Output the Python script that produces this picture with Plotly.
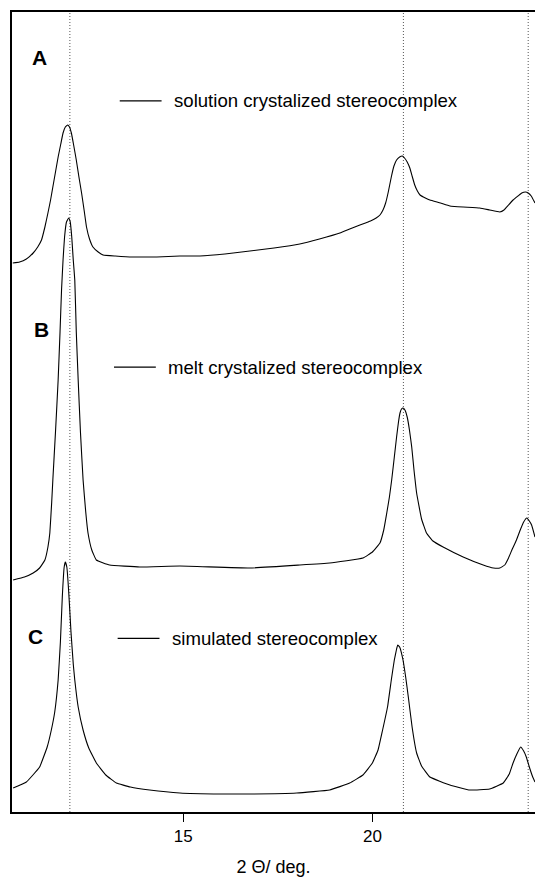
import plotly.graph_objects as go

# 2-theta (deg) and intensity (a.u.)
x_a = [10.49, 10.67, 10.85, 11.03, 11.15, 11.25, 11.34, 11.42, 11.49, 11.55, 11.62, 11.69, 11.76, 11.82, 11.88,
       11.94, 11.99, 12.04, 12.10, 12.17, 12.24, 12.31, 12.38, 12.44, 12.52, 12.61, 12.75, 12.88, 13.2, 13.66,
       14.3, 14.91, 15.44, 16.1, 16.76, 17.4, 18.08, 18.6, 19.14, 19.4, 19.67, 19.95, 20.1, 20.2, 20.28, 20.35,
       20.42, 20.5, 20.57, 20.64, 20.72, 20.79, 20.85, 20.92, 20.99, 21.05, 21.12, 21.19, 21.26, 21.4, 21.52,
       21.8, 22.05, 22.4, 22.84, 23.1, 23.37, 23.48, 23.6, 23.72, 23.85, 23.95, 24.05, 24.12, 24.2, 24.3]
y_a = [9, 10, 13, 19, 25, 32, 45, 59, 72, 85, 100, 115, 128, 139, 145,
       147, 145, 139, 127, 112, 95, 79, 61, 45, 33, 25, 20, 17, 16, 15,
       15, 16, 16, 18, 21, 24, 28, 33, 39, 43, 47, 51, 54, 57, 62, 69,
       80, 95, 106, 112, 115, 116, 114, 110, 104, 96, 87, 81, 77, 74, 72,
       69, 66, 65, 64, 62, 60, 62, 67, 72, 76, 79, 80, 79, 76, 69]

x_b = [10.50, 10.8, 11.03, 11.2, 11.34, 11.42, 11.47, 11.52, 11.55, 11.62, 11.69, 11.74, 11.78, 11.82, 11.86,
       11.91, 11.97, 12.01, 12.05, 12.09, 12.13, 12.17, 12.22, 12.28, 12.35, 12.42, 12.48, 12.58, 12.70, 13.05,
       13.85, 14.91, 16.76, 18.08, 18.87, 19.75, 20.0, 20.2, 20.3, 20.38, 20.45, 20.51, 20.58, 20.64, 20.69,
       20.73, 20.77, 20.81, 20.86, 20.92, 20.98, 21.04, 21.1, 21.17, 21.3, 21.43, 21.6, 21.87, 22.4, 22.93,
       23.2, 23.37, 23.5, 23.6, 23.7, 23.81, 23.92, 24.0, 24.08, 24.15, 24.21, 24.3]
y_b = [2, 5, 9, 14, 22, 35, 49, 80, 102, 150, 202, 250, 292, 322, 345,
       360, 364, 360, 345, 322, 302, 250, 202, 150, 102, 70, 49, 32, 22, 17,
       15, 16, 14, 17, 19, 24, 30, 39, 52, 69, 85, 102, 125, 145, 160,
       169, 173, 174, 172, 165, 152, 135, 112, 89, 63, 49, 41, 35, 25, 17,
       14, 14, 17, 24, 33, 42, 53, 60, 64, 61, 57, 45]

x_c = [10.50, 10.85, 11.2, 11.4, 11.51, 11.6, 11.69, 11.75, 11.80, 11.85, 11.88, 11.92, 11.97, 12.03, 12.09,
       12.13, 12.22, 12.35, 12.5, 12.7, 12.95, 13.23, 13.6, 14.11, 14.91, 16.0, 16.76, 18.0, 18.87, 19.4,
       19.75, 20.0, 20.15, 20.27, 20.4, 20.5, 20.58, 20.64, 20.67, 20.72, 20.81, 20.88, 20.95, 21.05, 21.17,
       21.3, 21.52, 22.05, 22.58, 23.1, 23.46, 23.62, 23.72, 23.82, 23.92, 24.0, 24.07, 24.15, 24.24, 24.3]
y_c = [24, 30, 45, 65, 82, 100, 132, 170, 215, 245, 250, 245, 220, 180, 148,
       132, 105, 82, 64, 49, 37, 29, 25, 22, 19, 18, 18, 19, 22, 29,
       37, 49, 62, 82, 105, 132, 152, 163, 167, 165, 152, 135, 115, 85, 59,
       46, 35, 27, 22, 23, 29, 38, 49, 58, 65, 61, 55, 45, 35, 30]

offsets = {"A": 540, "B": 230, "C": 0}
series = [
    ("A", "solution crystalized stereocomplex", x_a, y_a),
    ("B", "melt crystalized stereocomplex", x_b, y_b),
    ("C", "simulated stereocomplex", x_c, y_c),
]
ref_lines = [12.0, 20.82, 24.12]
tick_vals = [15, 20]
tick_text = ["15", "20"]

FONT = "Liberation Sans, Arial, Helvetica, sans-serif"

fig = go.Figure()
for key, name, xs, ys in series:
    off = offsets[key]
    fig.add_trace(go.Scatter(x=xs, y=[v + off for v in ys], mode="lines", name=name,
                             line=dict(color="black", width=1.1, shape="spline", smoothing=0.3),
                             showlegend=False, hoverinfo="skip"))

shapes = []
for xv in ref_lines:
    shapes.append(dict(type="line", xref="x", yref="paper", x0=xv, x1=xv, y0=0, y1=1,
                       line=dict(color="#555555", width=1, dash="1px,2px"), layer="below"))

# panel letter position, legend line position
leg = [
    (0.053, 0.943, 0.206, 0.889, "A"),
    (0.057, 0.603, 0.195, 0.556, "B"),
    (0.045, 0.219, 0.202, 0.217, "C"),
]
annotations = []
for (lx, ly, sx, sy, key), (_, name, _, _) in zip(leg, series):
    annotations.append(dict(xref="paper", yref="paper", x=lx, y=ly, text="<b>%s</b>" % key,
                            showarrow=False, font=dict(family=FONT, size=21, color="black"),
                            xanchor="center", yanchor="middle"))
    shapes.append(dict(type="line", xref="paper", yref="paper", x0=sx, x1=sx + 0.08, y0=sy, y1=sy,
                       line=dict(color="black", width=1.2)))
    annotations.append(dict(xref="paper", yref="paper", x=sx + 0.1, y=sy, text=name, showarrow=False,
                            font=dict(family=FONT, size=18.6, color="black"),
                            xanchor="left", yanchor="middle"))

fig.update_layout(
    width=535, height=877,
    margin=dict(l=12, r=0, t=12, b=65),
    paper_bgcolor="white", plot_bgcolor="white",
    shapes=shapes, annotations=annotations,
    font=dict(family=FONT, size=17, color="black"),
    xaxis=dict(range=[10.47, 24.3], showgrid=False, zeroline=False, showline=True, linecolor="black",
               linewidth=1.5, mirror=True, ticks="outside", ticklen=8, tickcolor="black", tickwidth=1.2,
               tickvals=tick_vals, ticktext=tick_text, tickfont=dict(family=FONT, size=17),
               title=dict(text="2 Θ/ deg.", font=dict(family=FONT, size=18), standoff=17)),
    yaxis=dict(range=[0, 800], showgrid=False, zeroline=False, showline=True, linecolor="black",
               linewidth=1.8, showticklabels=False, ticks=""),
)

fig.write_html("out.html")
